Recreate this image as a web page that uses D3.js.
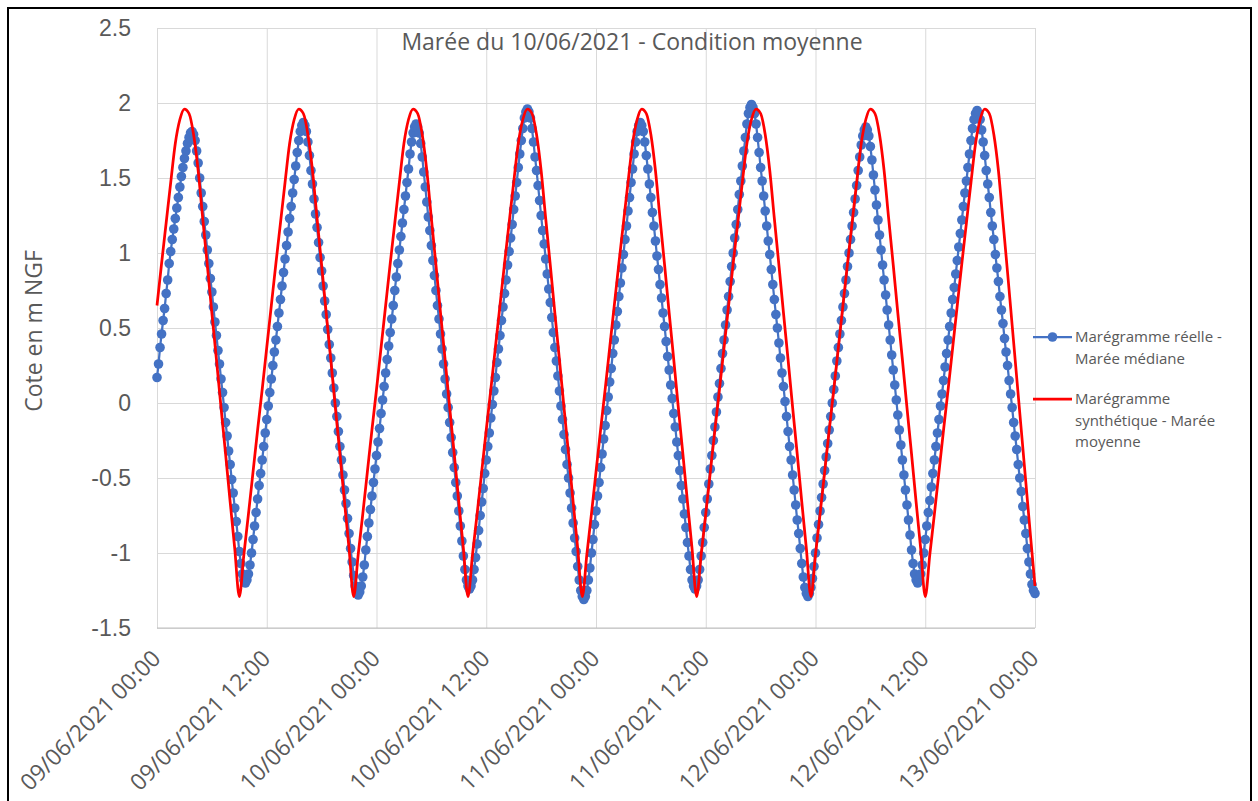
<!DOCTYPE html>
<html>
<head>
<meta charset="utf-8">
<script src="https://cdn.jsdelivr.net/npm/d3@7"></script>
<style>
  html, body { margin: 0; padding: 0; background: #fff; }
  svg { display: block; font-family: "Open Sans", "Noto Sans", sans-serif; }
</style>
</head>
<body>
<svg id="chart" width="1258" height="801"></svg>
<script>
// ---- Chart text ----
const chartTitle = "Marée du 10/06/2021 - Condition moyenne";
const yAxisTitle = "Cote en m NGF";
const yTickValues = [-1.5, -1, -0.5, 0, 0.5, 1, 1.5, 2, 2.5];
const yTickLabels = ["-1.5", "-1", "-0.5", "0", "0.5", "1", "1.5", "2", "2.5"];
const xTickLabels = [
  "09/06/2021 00:00", "09/06/2021 12:00", "10/06/2021 00:00", "10/06/2021 12:00",
  "11/06/2021 00:00", "11/06/2021 12:00", "12/06/2021 00:00", "12/06/2021 12:00",
  "13/06/2021 00:00"
];
const xTickStepHours = 12;
const legendObserved = ["Marégramme réelle -", "Marée médiane"];
const legendSynthetic = ["Marégramme", "synthétique - Marée", "moyenne"];

// ---- Series ----
const startTime = "2021-06-09T00:00";

// Observed tide, one reading every 10 minutes (m NGF)
const observedStepMinutes = 10;
const observedLevels = [
  0.17,0.26,0.37,0.46,0.55,0.63,0.73,0.82,0.93,1.01,1.09,1.16,1.23,1.30,1.37,1.44,1.51,1.57,1.63,1.68,1.73,1.77,1.80,1.81,
  1.79,1.75,1.68,1.60,1.50,1.40,1.31,1.21,1.12,1.02,0.93,0.83,0.74,0.64,0.54,0.45,0.35,0.26,0.16,0.07,-0.03,-0.13,-0.22,-0.32,-0.41,-0.51,-0.60,-0.70,-0.79,-0.89,-0.99,-1.07,-1.14,-1.18,-1.20,
  -1.18,-1.14,-1.08,-1.00,-0.91,-0.82,-0.73,-0.64,-0.55,-0.47,-0.38,-0.29,-0.20,-0.11,-0.02,0.07,0.16,0.25,0.34,0.42,0.51,0.60,0.69,0.78,0.87,0.96,1.05,1.14,1.23,1.31,1.40,1.49,1.58,1.67,1.75,1.81,1.85,1.87,
  1.85,1.81,1.74,1.65,1.55,1.46,1.36,1.26,1.17,1.07,0.97,0.88,0.78,0.68,0.59,0.49,0.39,0.30,0.20,0.10,0.00,-0.09,-0.19,-0.29,-0.38,-0.48,-0.58,-0.67,-0.77,-0.87,-0.97,-1.06,-1.15,-1.22,-1.26,-1.28,
  -1.26,-1.22,-1.16,-1.08,-0.98,-0.89,-0.80,-0.71,-0.62,-0.53,-0.44,-0.35,-0.26,-0.17,-0.07,0.02,0.11,0.20,0.29,0.38,0.47,0.56,0.65,0.75,0.84,0.93,1.02,1.11,1.20,1.29,1.38,1.47,1.56,1.66,1.74,1.80,1.84,1.86,
  1.84,1.80,1.73,1.64,1.54,1.44,1.34,1.24,1.15,1.05,0.95,0.85,0.75,0.65,0.56,0.46,0.36,0.26,0.16,0.06,-0.03,-0.13,-0.23,-0.33,-0.43,-0.53,-0.62,-0.72,-0.82,-0.92,-1.02,-1.11,-1.18,-1.22,-1.24,
  -1.22,-1.18,-1.11,-1.03,-0.94,-0.85,-0.75,-0.66,-0.57,-0.47,-0.38,-0.29,-0.20,-0.10,-0.01,0.08,0.17,0.27,0.36,0.45,0.55,0.64,0.73,0.82,0.92,1.01,1.10,1.19,1.29,1.38,1.47,1.57,1.66,1.75,1.83,1.90,1.94,1.96,
  1.94,1.90,1.83,1.74,1.64,1.55,1.45,1.35,1.25,1.15,1.06,0.96,0.86,0.76,0.67,0.57,0.47,0.37,0.28,0.18,0.08,-0.02,-0.11,-0.21,-0.31,-0.41,-0.50,-0.60,-0.70,-0.80,-0.90,-0.99,-1.09,-1.18,-1.25,-1.29,-1.31,
  -1.29,-1.25,-1.18,-1.10,-1.00,-0.91,-0.81,-0.72,-0.62,-0.53,-0.43,-0.34,-0.24,-0.15,-0.05,0.04,0.14,0.23,0.33,0.42,0.52,0.61,0.71,0.80,0.90,0.99,1.09,1.18,1.28,1.37,1.47,1.56,1.66,1.74,1.81,1.85,1.87,
  1.85,1.81,1.74,1.65,1.56,1.46,1.37,1.27,1.18,1.08,0.98,0.89,0.79,0.70,0.60,0.51,0.41,0.31,0.22,0.12,0.03,-0.07,-0.16,-0.26,-0.35,-0.45,-0.55,-0.64,-0.74,-0.83,-0.93,-1.02,-1.11,-1.18,-1.22,-1.24,
  -1.22,-1.18,-1.11,-1.02,-0.93,-0.83,-0.73,-0.64,-0.54,-0.44,-0.35,-0.25,-0.16,-0.06,0.04,0.13,0.23,0.33,0.42,0.52,0.62,0.71,0.81,0.91,1.00,1.10,1.19,1.29,1.39,1.48,1.58,1.68,1.77,1.86,1.93,1.97,1.99,
  1.97,1.93,1.86,1.77,1.67,1.57,1.48,1.38,1.28,1.18,1.08,0.99,0.89,0.79,0.69,0.59,0.50,0.40,0.30,0.20,0.11,0.01,-0.09,-0.19,-0.29,-0.38,-0.48,-0.58,-0.68,-0.78,-0.87,-0.97,-1.07,-1.16,-1.23,-1.27,-1.29,
  -1.27,-1.23,-1.17,-1.09,-1.00,-0.90,-0.81,-0.72,-0.63,-0.54,-0.45,-0.36,-0.27,-0.18,-0.09,0.00,0.09,0.18,0.28,0.37,0.46,0.55,0.64,0.73,0.82,0.91,1.00,1.09,1.18,1.27,1.36,1.45,1.55,1.64,1.72,1.78,1.82,1.84,
  1.82,1.78,1.71,1.62,1.52,1.42,1.32,1.22,1.12,1.02,0.92,0.82,0.72,0.62,0.52,0.42,0.32,0.22,0.12,0.02,-0.08,-0.18,-0.28,-0.38,-0.48,-0.58,-0.68,-0.78,-0.88,-0.98,-1.07,-1.14,-1.18,-1.20,
  -1.18,-1.14,-1.08,-1.00,-0.91,-0.82,-0.73,-0.65,-0.56,-0.47,-0.38,-0.29,-0.20,-0.11,-0.02,0.06,0.15,0.24,0.33,0.42,0.51,0.60,0.69,0.77,0.86,0.95,1.04,1.13,1.22,1.31,1.40,1.48,1.57,1.66,1.75,1.83,1.89,1.93,1.95,
  1.93,1.89,1.82,1.74,1.65,1.55,1.46,1.37,1.27,1.18,1.09,0.99,0.90,0.81,0.71,0.62,0.53,0.43,0.34,0.25,0.15,0.06,-0.03,-0.13,-0.22,-0.31,-0.41,-0.50,-0.59,-0.69,-0.78,-0.87,-0.97,-1.06,-1.14,-1.21,-1.25,-1.27
];

// Synthetic mean tide, one value every 30 minutes (m NGF)
const syntheticStepMinutes = 30;
const syntheticLevels = [
  0.65,0.93,1.20,1.47,1.73,1.89,1.96,1.93,1.79,1.55,1.23,0.92,0.60,0.29,-0.03,-0.34,-0.66,-0.97,
  -1.29,-1.01,-0.74,-0.46,-0.18,0.09,0.37,0.65,0.93,1.20,1.47,1.73,1.89,1.96,1.93,1.79,1.55,1.23,0.92,0.60,0.29,-0.03,-0.34,-0.66,-0.97,
  -1.29,-1.01,-0.74,-0.46,-0.18,0.09,0.37,0.65,0.93,1.20,1.47,1.73,1.89,1.96,1.93,1.79,1.55,1.23,0.92,0.60,0.29,-0.03,-0.34,-0.66,-0.97,
  -1.29,-1.01,-0.74,-0.46,-0.18,0.09,0.37,0.65,0.93,1.20,1.47,1.73,1.89,1.96,1.93,1.79,1.55,1.23,0.92,0.60,0.29,-0.03,-0.34,-0.66,-0.97,
  -1.29,-1.01,-0.74,-0.46,-0.18,0.09,0.37,0.65,0.93,1.20,1.47,1.73,1.89,1.96,1.93,1.79,1.55,1.23,0.92,0.60,0.29,-0.03,-0.34,-0.66,-0.97,
  -1.29,-1.01,-0.74,-0.46,-0.18,0.09,0.37,0.65,0.93,1.20,1.47,1.73,1.89,1.96,1.93,1.79,1.55,1.23,0.92,0.60,0.29,-0.03,-0.34,-0.66,-0.97,
  -1.29,-1.01,-0.74,-0.46,-0.18,0.09,0.37,0.65,0.93,1.20,1.47,1.73,1.89,1.96,1.93,1.79,1.55,1.23,0.92,0.60,0.29,-0.03,-0.34,-0.66,-0.97,
  -1.29,-1.01,-0.74,-0.46,-0.18,0.09,0.37,0.65,0.93,1.20,1.47,1.73,1.89,1.96,1.93,1.79,1.55,1.21,0.87,0.52,0.17,-0.18,-0.53,-0.88,-1.22
];

// ---- Layout ----
const W = 1258, H = 801;
const plot = { left: 157, right: 1035, top: 28, bottom: 628 };
const textColor = "#595959";
const gridColor = "#d9d9d9";
const blue = "#4472C4";
const red = "#FF0000";
const axisFont = 23;

const svg = d3.select("#chart");

svg.append("rect").attr("x", 0).attr("y", 0).attr("width", W).attr("height", H).attr("fill", "#fff");
svg.append("rect")
  .attr("x", 8).attr("y", 8).attr("width", 1243).attr("height", 820)
  .attr("fill", "none").attr("stroke", "#000").attr("stroke-width", 2);

const t0 = d3.timeParse("%Y-%m-%dT%H:%M")(startTime);
const spanHours = (xTickLabels.length - 1) * xTickStepHours;
const x = d3.scaleTime()
  .domain([t0, d3.timeHour.offset(t0, spanHours)])
  .range([plot.left, plot.right]);
const y = d3.scaleLinear().domain([-1.5, 2.5]).range([plot.bottom, plot.top]);

const xTicks = xTickLabels.map((_, i) => d3.timeHour.offset(t0, i * xTickStepHours));

// horizontal gridlines + y labels
const yAxis = d3.axisLeft(y)
  .tickValues(yTickValues)
  .tickFormat((d, i) => yTickLabels[i])
  .tickSize(-(plot.right - plot.left))
  .tickPadding(26);
const gy = svg.append("g").attr("transform", `translate(${plot.left},0)`).call(yAxis);
gy.select(".domain").remove();
gy.selectAll("line").attr("stroke", gridColor).attr("stroke-width", 1);
gy.selectAll("text").attr("fill", textColor).attr("font-size", axisFont);

// vertical gridlines
const xAxis = d3.axisBottom(x)
  .tickValues(xTicks)
  .tickFormat("")
  .tickSize(-(plot.bottom - plot.top));
const gx = svg.append("g").attr("transform", `translate(0,${plot.bottom})`).call(xAxis);
gx.select(".domain").remove();
gx.selectAll("line").attr("stroke", gridColor).attr("stroke-width", 1);

// bottom axis line
svg.append("line")
  .attr("x1", plot.left).attr("x2", plot.right)
  .attr("y1", plot.bottom).attr("y2", plot.bottom)
  .attr("stroke", "#bfbfbf").attr("stroke-width", 1);

// rotated x labels
svg.append("g").selectAll("text")
  .data(xTicks)
  .join("text")
  .attr("transform", d => `translate(${x(d) + 5},${plot.bottom + 32}) rotate(-45)`)
  .attr("text-anchor", "end")
  .attr("fill", textColor)
  .attr("font-size", axisFont)
  .text((d, i) => xTickLabels[i]);

// title
svg.append("text")
  .attr("x", 632).attr("y", 50)
  .attr("text-anchor", "middle")
  .attr("fill", textColor)
  .attr("font-size", axisFont)
  .text(chartTitle);

// y axis title
svg.append("text")
  .attr("transform", "translate(42,331) rotate(-90)")
  .attr("text-anchor", "middle")
  .attr("fill", textColor)
  .attr("font-size", axisFont)
  .text(yAxisTitle);

// ---- Series ----
const observed = observedLevels.map((v, i) => ({ t: d3.timeMinute.offset(t0, i * observedStepMinutes), v }));
const synthetic = syntheticLevels.map((v, i) => ({ t: d3.timeMinute.offset(t0, i * syntheticStepMinutes), v }));

const lineGen = d3.line().x(d => x(d.t)).y(d => y(d.v));

svg.append("path")
  .datum(observed)
  .attr("d", lineGen)
  .attr("fill", "none")
  .attr("stroke", blue)
  .attr("stroke-width", 2.25);

svg.append("g").selectAll("circle")
  .data(observed)
  .join("circle")
  .attr("cx", d => x(d.t))
  .attr("cy", d => y(d.v))
  .attr("r", 4.8)
  .attr("fill", blue);

svg.append("path")
  .datum(synthetic)
  .attr("d", lineGen.curve(d3.curveMonotoneX))
  .attr("fill", "none")
  .attr("stroke", red)
  .attr("stroke-width", 2.75)
  .attr("stroke-linejoin", "round");

// ---- Legend ----
const lg = svg.append("g");
lg.append("line").attr("x1", 1033).attr("x2", 1072).attr("y1", 337).attr("y2", 337)
  .attr("stroke", blue).attr("stroke-width", 2.25);
lg.append("circle").attr("cx", 1052.5).attr("cy", 337).attr("r", 4.8).attr("fill", blue);
lg.append("line").attr("x1", 1033).attr("x2", 1072).attr("y1", 399).attr("y2", 399)
  .attr("stroke", red).attr("stroke-width", 2.75);

const legendText = (lines, y0) => {
  lines.forEach((s, i) => {
    lg.append("text")
      .attr("x", 1075).attr("y", y0 + i * 21.5)
      .attr("fill", textColor)
      .attr("font-size", 15)
      .text(s);
  });
};
legendText(legendObserved, 342);
legendText(legendSynthetic, 404);
</script>
</body>
</html>
